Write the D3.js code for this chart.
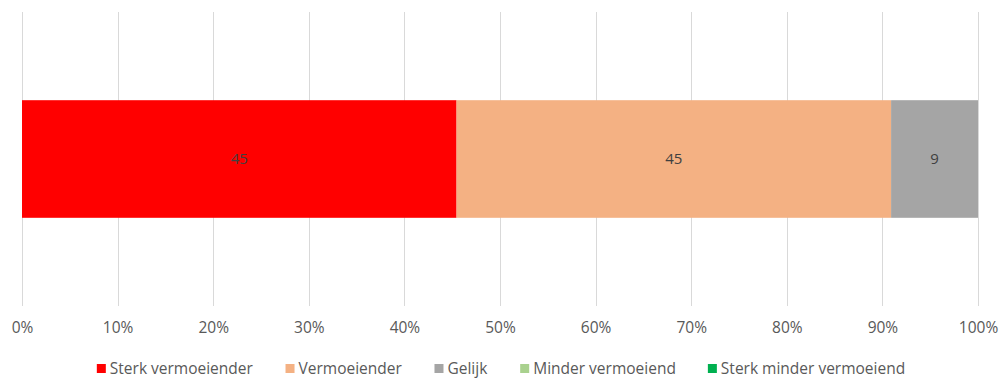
<!DOCTYPE html>
<html>
<head>
<meta charset="utf-8">
<script src="https://cdn.jsdelivr.net/npm/d3@7"></script>
<style>
  html, body { margin: 0; padding: 0; background: #fff; }
  svg { display: block; font-family: "Open Sans", "Liberation Sans", sans-serif; }
</style>
</head>
<body>
<svg id="chart" width="1002" height="379"></svg>
<script>
// Response categories (stack order, left to right)
const categories = ["Sterk vermoeiender", "Vermoeiender", "Gelijk", "Minder vermoeiend", "Sterk minder vermoeiend"];
// Counts per category
const values = [45, 45, 9, 0, 0];
// Fill colour per category
const colors = ["#ff0000", "#f4b183", "#a5a5a5", "#a9d18e", "#00b050"];
// Percent ticks on the x axis
const tickValues = [0, 0.1, 0.2, 0.3, 0.4, 0.5, 0.6, 0.7, 0.8, 0.9, 1.0];

const svg = d3.select("#chart");
const margin = { left: 22, right: 24, top: 12, plotBottom: 306 };
const width = 1002;

const x = d3.scaleLinear().domain([0, 1]).range([margin.left, width - margin.right]);
const y = d3.scaleBand().domain(["row"]).range([margin.top, margin.plotBottom]).paddingInner(0.6).paddingOuter(0.3);

// Vertical gridlines
svg.append("g")
  .selectAll("line")
  .data(tickValues)
  .join("line")
  .attr("x1", d => Math.round(x(d)) + 0.5)
  .attr("x2", d => Math.round(x(d)) + 0.5)
  .attr("y1", margin.top)
  .attr("y2", margin.plotBottom)
  .attr("stroke", "#d9d9d9")
  .attr("stroke-width", 1);

// Axis labels
const axis = d3.axisBottom(x).tickValues(tickValues).tickFormat(d3.format(".0%")).tickSize(0).tickPadding(0);
const gAxis = svg.append("g").attr("transform", `translate(0, ${margin.plotBottom + 16})`).call(axis);
gAxis.select(".domain").remove();
gAxis.selectAll("text")
  .attr("fill", "#595959")
  .attr("font-size", "15.5px")
  .attr("font-family", "'Open Sans', sans-serif")
  .attr("dy", "0.71em");

// Stacked 100% bar
const total = d3.sum(values);
let acc = 0;
const segs = values.map((v, i) => {
  const s = { name: categories[i], value: v, x0: acc / total, x1: (acc + v) / total, color: colors[i] };
  acc += v;
  return s;
});

const bars = svg.append("g");
bars.selectAll("rect")
  .data(segs.filter(d => d.value > 0))
  .join("rect")
  .attr("x", d => x(d.x0))
  .attr("width", d => x(d.x1) - x(d.x0))
  .attr("y", y("row"))
  .attr("height", y.bandwidth())
  .attr("fill", d => d.color);

bars.selectAll("text")
  .data(segs.filter(d => d.value > 0))
  .join("text")
  .attr("x", d => (x(d.x0) + x(d.x1)) / 2)
  .attr("y", y("row") + y.bandwidth() / 2)
  .attr("dy", "0.35em")
  .attr("text-anchor", "middle")
  .attr("font-size", "15px")
  .attr("fill", "#404040")
  .text(d => d.value);

// Legend
const legend = svg.append("g").attr("transform", "translate(0, 369)");
const items = legend.selectAll("g")
  .data(categories)
  .join("g");
items.append("rect")
  .attr("width", 9).attr("height", 9).attr("y", -5)
  .attr("fill", (d, i) => colors[i]);
items.append("text")
  .attr("x", 13)
  .attr("dy", "0.35em")
  .attr("font-size", "15.5px")
  .attr("fill", "#595959")
  .text(d => d);

const gap = 32;
let widths = [];
items.each(function () { widths.push(this.getBBox().width); });
const totalW = d3.sum(widths) + gap * (widths.length - 1);
let lx = (width - totalW) / 2;
items.attr("transform", (d, i) => {
  const t = `translate(${lx}, 0)`;
  lx += widths[i] + gap;
  return t;
});
</script>
</body>
</html>
